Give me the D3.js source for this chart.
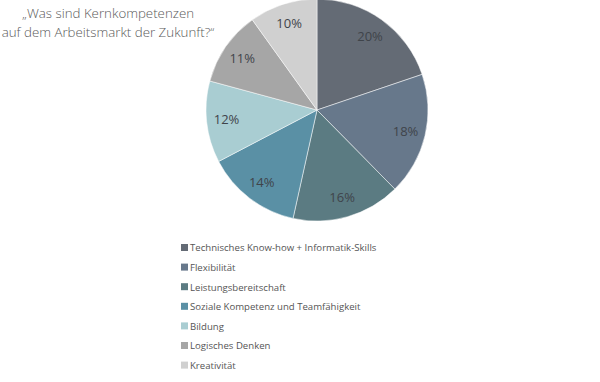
<!DOCTYPE html>
<html>
<head>
<meta charset="utf-8">
<script src="https://cdn.jsdelivr.net/npm/d3@7"></script>
<style>
  body { margin: 0; background: #fff; }
  svg { display: block; font-family: "Open Sans", sans-serif; }
</style>
</head>
<body>
<div id="chart"></div>
<script>
const categories = [
  "Technisches Know-how + Informatik-Skills",
  "Flexibilität",
  "Leistungsbereitschaft",
  "Soziale Kompetenz und Teamfähigkeit",
  "Bildung",
  "Logisches Denken",
  "Kreativität"
];
const values = [20, 18, 16, 14, 12, 11, 10];
const colors = ["#646b75", "#67788b", "#5b7b82", "#5a90a5", "#a9cdd2", "#a6a6a6", "#d0d0d0"];
const titleLines = ["\u201EWas sind Kernkompetenzen", "auf dem Arbeitsmarkt der Zukunft?\u201C"];

const width = 600, height = 382;
const cx = 317, cy = 110, radius = 111;

const svg = d3.select("#chart").append("svg")
  .attr("width", width)
  .attr("height", height);

const data = categories.map((c, i) => ({ name: c, value: values[i], color: colors[i] }));

const pie = d3.pie().value(d => d.value).sort(null);
const arc = d3.arc().innerRadius(0).outerRadius(radius);
const labelArc = d3.arc().innerRadius(91).outerRadius(91);

const g = svg.append("g").attr("transform", `translate(${cx},${cy})`);

const arcs = pie(data);

g.selectAll("path")
  .data(arcs)
  .enter().append("path")
  .attr("d", arc)
  .attr("fill", d => d.data.color)
  .attr("stroke", "#fff")
  .attr("stroke-width", 0.5);

g.selectAll("text")
  .data(arcs)
  .enter().append("text")
  .attr("transform", d => `translate(${labelArc.centroid(d)})`)
  .attr("text-anchor", "middle")
  .attr("dy", "0.35em")
  .attr("fill", "#3f444a")
  .style("font-size", "13px")
  .style("font-weight", 400)
  .text(d => d.data.value + "%");

// title
svg.append("g")
  .selectAll("text")
  .data(titleLines)
  .enter().append("text")
  .attr("x", 108)
  .attr("y", (d, i) => 18 + i * 18.5)
  .attr("text-anchor", "middle")
  .attr("fill", "#5a5a5a")
  .style("font-size", "13.3px")
  .style("font-weight", 300)
  .text(d => d);

// legend
const legend = svg.append("g").attr("transform", "translate(181,248)");
const row = legend.selectAll("g")
  .data(data)
  .enter().append("g")
  .attr("transform", (d, i) => `translate(0,${i * 19.6})`);

row.append("rect")
  .attr("x", 0)
  .attr("y", -4)
  .attr("width", 7)
  .attr("height", 7)
  .attr("fill", d => d.color);

row.append("text")
  .attr("x", 9)
  .attr("y", 0)
  .attr("dy", "0.35em")
  .attr("fill", "#555")
  .style("font-size", "9.6px")
  .style("font-weight", 400)
  .text(d => d.name);
</script>
</body>
</html>
